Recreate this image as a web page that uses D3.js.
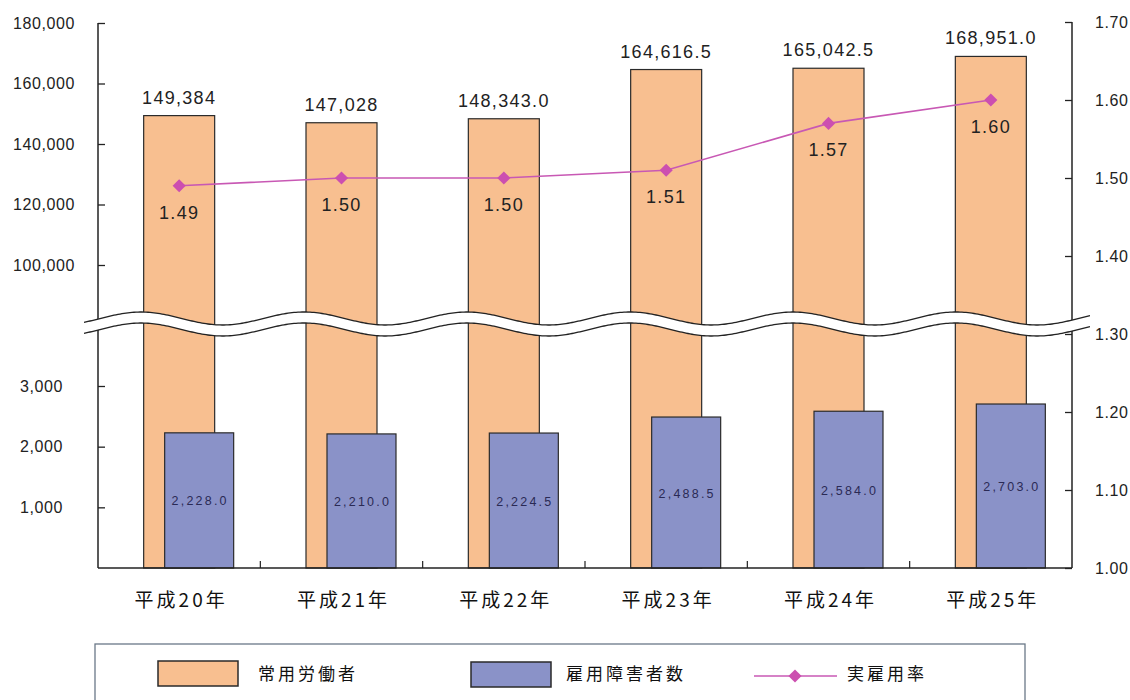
<!DOCTYPE html>
<html>
<head>
<meta charset="utf-8">
<script src="https://cdn.jsdelivr.net/npm/d3@7"></script>
<style>
  body { margin: 0; background: #fff; }
  svg { display: block; }
  .num { font-family: "Liberation Sans", Arial, sans-serif; fill: #222; }
  .jp { font-family: "Noto Sans CJK JP", sans-serif; fill: #111; }
  .axis path { display: none; }
  .axis line { stroke: #222; stroke-width: 1.3; }
</style>
</head>
<body>
<div class="graph"></div>
<script>
// 年度
const years = ['平成20年', '平成21年', '平成22年', '平成23年', '平成24年', '平成25年']
// 常用労働者
const workers = [149384, 147028, 148343.0, 164616.5, 165042.5, 168951.0]
const workerLabels = ['149,384', '147,028', '148,343.0', '164,616.5', '165,042.5', '168,951.0']
// 雇用障害者数
const disabled = [2228.0, 2210.0, 2224.5, 2488.5, 2584.0, 2703.0]
// 実雇用率
const rate = [1.49, 1.50, 1.50, 1.51, 1.57, 1.60]
// tick labels
const upperTicks = [100000, 120000, 140000, 160000, 180000]
const lowerTicks = [1000, 2000, 3000]
const rateTicks = [1.0, 1.1, 1.2, 1.3, 1.4, 1.5, 1.6, 1.7]
const legendNames = ['常用労働者', '雇用障害者数', '実雇用率']

const BaseData = {
  width: 1130,
  height: 700,
  left: 98,
  right: 1072,
  base: 568,
  orange: '#F8BF90',
  blue: '#8A92C8',
  pink: '#C858B4',
}

const svg = d3.select('.graph').append('svg')
  .attr('width', BaseData.width)
  .attr('height', BaseData.height)

const x = d3.scaleBand().domain(years).range([BaseData.left, BaseData.right])
// 上段 (途中省略)
const yUp = d3.scaleLinear().domain([100000, 180000]).range([265, 23])
// 下段
const yLow = d3.scaleLinear().domain([0, 3000]).range([BaseData.base, 386])
// right axis
const yR = d3.scaleLinear().domain([1.0, 1.7]).range([BaseData.base, 22])

const bw = x.bandwidth()
const orangeW = 71, blueW = 69, blueShift = 20

// 常用労働者 bars
svg.selectAll('rect.worker')
  .data(workers)
  .enter()
  .append('rect')
  .attr('class', 'worker')
  .attr('x', (d, i) => x(years[i]) + bw / 2 - orangeW / 2)
  .attr('y', d => yUp(d))
  .attr('width', orangeW)
  .attr('height', d => BaseData.base - yUp(d))
  .attr('fill', BaseData.orange)
  .attr('stroke', '#2a2a2a')
  .attr('stroke-width', 1.2)

// 雇用障害者数 bars
svg.selectAll('rect.dis')
  .data(disabled)
  .enter()
  .append('rect')
  .attr('class', 'dis')
  .attr('x', (d, i) => x(years[i]) + bw / 2 + blueShift - blueW / 2)
  .attr('y', d => yLow(d))
  .attr('width', blueW)
  .attr('height', d => BaseData.base - yLow(d))
  .attr('fill', BaseData.blue)
  .attr('stroke', '#2a2a2a')
  .attr('stroke-width', 1.2)

// axes
svg.append('g').attr('class', 'axis')
  .attr('transform', `translate(${BaseData.left},0)`)
  .call(d3.axisLeft(yUp).tickValues(upperTicks).tickFormat(d3.format(','))
    .tickSizeInner(-7).tickSizeOuter(0).tickPadding(23))
svg.append('g').attr('class', 'axis')
  .attr('transform', `translate(${BaseData.left},0)`)
  .call(d3.axisLeft(yLow).tickValues(lowerTicks).tickFormat(d3.format(','))
    .tickSizeInner(-7).tickSizeOuter(0).tickPadding(35))
svg.append('g').attr('class', 'axis')
  .attr('transform', `translate(${BaseData.right},0)`)
  .call(d3.axisRight(yR).tickValues(rateTicks).tickFormat(d3.format('.2f'))
    .tickSizeInner(-7).tickSizeOuter(0).tickPadding(23))

svg.selectAll('.axis text')
  .attr('class', 'num')
  .style('font-size', '16px')
  .style('letter-spacing', '0.6px')
  .attr('fill', '#222')

// axis lines
svg.append('line')
  .attr('x1', BaseData.left).attr('x2', BaseData.left)
  .attr('y1', yUp(180000)).attr('y2', BaseData.base)
  .attr('stroke', '#222').attr('stroke-width', 1.5)
svg.append('line')
  .attr('x1', BaseData.right).attr('x2', BaseData.right)
  .attr('y1', yR(1.7)).attr('y2', BaseData.base)
  .attr('stroke', '#222').attr('stroke-width', 1.5)
svg.append('line')
  .attr('x1', BaseData.left).attr('x2', BaseData.right)
  .attr('y1', BaseData.base).attr('y2', BaseData.base)
  .attr('stroke', '#222').attr('stroke-width', 1.5)

// x ticks between categories
svg.selectAll('line.xtick')
  .data(years.slice(1))
  .enter()
  .append('line')
  .attr('class', 'xtick')
  .attr('x1', d => x(d)).attr('x2', d => x(d))
  .attr('y1', BaseData.base).attr('y2', BaseData.base - 7)
  .attr('stroke', '#222').attr('stroke-width', 1.2)

// x labels
svg.selectAll('text.xlab')
  .data(years)
  .enter()
  .append('text')
  .attr('class', 'jp')
  .attr('x', d => x(d) + bw / 2 + 2)
  .attr('y', 607)
  .attr('text-anchor', 'middle')
  .style('font-size', '19px')
  .style('letter-spacing', '3px')
  .text(d => d)

// 実雇用率 line
const line = d3.line()
  .x((d, i) => x(years[i]) + bw / 2)
  .y(d => yR(d))

svg.append('path')
  .datum(rate)
  .attr('d', line)
  .attr('fill', 'none')
  .attr('stroke', BaseData.pink)
  .attr('stroke-width', 1.6)

const diamond = d3.symbol().type(d3.symbolDiamond2).size(110)
svg.selectAll('path.pt')
  .data(rate)
  .enter()
  .append('path')
  .attr('class', 'pt')
  .attr('d', diamond)
  .attr('transform', (d, i) => `translate(${x(years[i]) + bw / 2},${yR(d)})`)
  .attr('fill', '#CC4FB0')

// break wave
const wave = (xx, off) => 318.5 + off - 6.5 * Math.cos(2 * Math.PI * (xx - 467) / 163)
const wx = d3.range(84, 1091, 2)
const upperPts = wx.map(v => [v, wave(v, 0)])
const lowerPts = wx.map(v => [v, wave(v, 11)])
svg.append('path')
  .attr('d', d3.line()(upperPts.concat(lowerPts.slice().reverse())) + 'Z')
  .attr('fill', '#fff')
svg.append('path')
  .attr('d', d3.line()(upperPts))
  .attr('fill', 'none').attr('stroke', '#222').attr('stroke-width', 1.3)
svg.append('path')
  .attr('d', d3.line()(lowerPts))
  .attr('fill', 'none').attr('stroke', '#222').attr('stroke-width', 1.3)

// labels: 常用労働者
svg.selectAll('text.wlab')
  .data(workers)
  .enter()
  .append('text')
  .attr('class', 'num')
  .attr('x', (d, i) => x(years[i]) + bw / 2)
  .attr('y', d => yUp(d) - 12)
  .attr('text-anchor', 'middle')
  .style('font-size', '18px')
  .style('letter-spacing', '1.3px')
  .text((d, i) => workerLabels[i])

// labels: 雇用障害者数
svg.selectAll('text.dlab')
  .data(disabled)
  .enter()
  .append('text')
  .attr('class', 'num')
  .attr('x', (d, i) => x(years[i]) + bw / 2 + blueShift + 1)
  .attr('y', d => (yLow(d) + BaseData.base) / 2 + 5)
  .attr('text-anchor', 'middle')
  .style('font-size', '12.5px')
  .style('letter-spacing', '2.2px')
  .style('fill', '#2a2a55')
  .text(d => d3.format(',.1f')(d))

// labels: 実雇用率
svg.selectAll('text.rlab')
  .data(rate)
  .enter()
  .append('text')
  .attr('class', 'num')
  .attr('x', (d, i) => x(years[i]) + bw / 2)
  .attr('y', d => yR(d) + 33)
  .attr('text-anchor', 'middle')
  .style('font-size', '18px')
  .style('letter-spacing', '1.3px')
  .text(d => d3.format('.2f')(d))

// legend
const lg = svg.append('g')
lg.append('rect')
  .attr('x', 95).attr('y', 644).attr('width', 930).attr('height', 70)
  .attr('fill', '#fff').attr('stroke', '#6a7888').attr('stroke-width', 1.3)
lg.append('rect')
  .attr('x', 158).attr('y', 661).attr('width', 80).attr('height', 25)
  .attr('fill', BaseData.orange).attr('stroke', '#2a2a2a').attr('stroke-width', 1.5)
lg.append('rect')
  .attr('x', 471).attr('y', 662).attr('width', 80).attr('height', 25)
  .attr('fill', BaseData.blue).attr('stroke', '#2a2a2a').attr('stroke-width', 1.5)
lg.append('line')
  .attr('x1', 754).attr('x2', 837).attr('y1', 676).attr('y2', 676)
  .attr('stroke', BaseData.pink).attr('stroke-width', 1.6)
lg.append('path')
  .attr('d', diamond)
  .attr('transform', 'translate(795,676)')
  .attr('fill', '#CC4FB0')
const legendX = [258, 566, 847]
lg.selectAll('text')
  .data(legendNames)
  .enter()
  .append('text')
  .attr('class', 'jp')
  .attr('x', (d, i) => legendX[i])
  .attr('y', 680)
  .style('font-size', '17px')
  .style('letter-spacing', '3px')
  .text(d => d)
</script>
</body>
</html>
